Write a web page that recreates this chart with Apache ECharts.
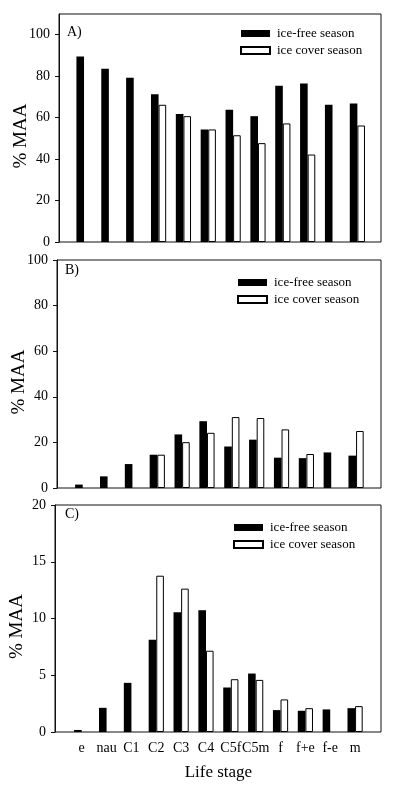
<!DOCTYPE html>
<html><head><meta charset="utf-8">
<script src="https://cdn.jsdelivr.net/npm/echarts@6/dist/echarts.min.js"></script>
<style>html,body{margin:0;padding:0;background:#fff}#c{width:400px;height:787px}</style>
</head><body><div id="c"></div>
<script>
const categories = ['e','nau','C1','C2','C3','C4','C5f','C5m','f','f+e','f-e','m'];
const seriesNames = ['ice-free season','ice cover season'];
const iceFreeA = [89.5,83.6,79.2,71.3,61.7,54.3,63.8,60.7,75.4,76.5,66.2,66.8];
const iceCoverA = [null,null,null,66.2,60.7,54.3,51.5,47.7,57.2,42.2,null,56.2];
const iceFreeB = [1.5,5.1,10.5,14.6,23.5,29.3,18.2,21.2,13.3,13.1,15.6,14.2];
const iceCoverB = [null,null,null,14.6,20.1,24.2,31.1,30.7,25.7,14.9,null,25.0];
const iceFreeC = [0.18,2.13,4.33,8.13,10.56,10.73,3.92,5.15,1.93,1.87,1.99,2.1];
const iceCoverC = [null,null,null,13.77,12.63,7.16,4.65,4.59,2.87,2.1,null,2.28];
const ticksA = [0,20,40,60,80,100];
const ticksB = [0,20,40,60,80,100];
const ticksC = [0,5,10,15,20];
const yMaxA = 110, yMaxB = 100, yMaxC = 20;
const panelLabels = ['A)','B)','C)'];
const yName = '% MAA';
const xName = 'Life stage';

const FONT = 'Liberation Serif';
const panels = [
  {free: iceFreeA, cover: iceCoverA, ticks: ticksA, max: yMaxA, box: {left:59, top:14, width:322, height:228}, barLeft:71.6, nameGap:28, legend:{left:240, top:25.5}, title:{left:67, top:25}},
  {free: iceFreeB, cover: iceCoverB, ticks: ticksB, max: yMaxB, box: {left:57, top:260, width:324, height:228}, barLeft:70.3, nameGap:28, legend:{left:237, top:274.5}, title:{left:65, top:263}},
  {free: iceFreeC, cover: iceCoverC, ticks: ticksC, max: yMaxC, box: {left:55, top:505, width:326, height:227}, barLeft:69.3, nameGap:28, legend:{left:233, top:519.5}, title:{left:65, top:507}}
];
const barSpan = 298.2;

const grid = [], xAxis = [], yAxis = [], series = [], legend = [], title = [];
panels.forEach((p, i) => {
  const gBox = grid.length;
  grid.push({left:p.box.left, top:p.box.top, width:p.box.width, height:p.box.height, show:true, borderColor:'#111', borderWidth:1, backgroundColor:'transparent', containLabel:false, outerBoundsMode:'none'});
  grid.push({left:p.barLeft, top:p.box.top, width:barSpan, height:p.box.height, containLabel:false, outerBoundsMode:'none'});
  xAxis.push({gridIndex:gBox, type:'value', min:0, max:1, show:false});
  yAxis.push({gridIndex:gBox, type:'value', min:0, max:p.max, interval:p.ticks[1]-p.ticks[0],
    axisLine:{show:true, lineStyle:{color:'#111', width:1}},
    axisTick:{show:true, length:4, inside:false, customValues:p.ticks, lineStyle:{color:'#111'}},
    axisLabel:{show:true, customValues:p.ticks, margin:9, color:'#000', fontFamily:FONT, fontSize:14},
    splitLine:{show:false},
    name:yName, nameLocation:'middle', nameGap:p.nameGap, nameRotate:90, nameMoveOverlap:false,
    nameTextStyle:{color:'#000', fontFamily:FONT, fontSize:19, padding:[0,16,0,0]}
  });
  const isLast = i === panels.length - 1;
  xAxis.push({gridIndex:gBox+1, type:'category', data:categories, boundaryGap:true,
    axisLine:{show:false}, axisTick:{show:false},
    axisLabel:{show:isLast, interval:0, margin:9, color:'#000', fontFamily:FONT, fontSize:14},
    name: isLast ? xName : '', nameLocation:'middle', nameGap:32,
    nameTextStyle:{color:'#000', fontFamily:FONT, fontSize:17}
  });
  yAxis.push({gridIndex:gBox+1, type:'value', min:0, max:p.max, show:false, splitLine:{show:false}});
  series.push({name:seriesNames[0], type:'bar', xAxisIndex:gBox+1, yAxisIndex:gBox+1, data:p.free,
    barWidth:7.6, barGap:'0%', itemStyle:{color:'#000'}, silent:true, animation:false});
  series.push({name:seriesNames[1], type:'bar', xAxisIndex:gBox+1, yAxisIndex:gBox+1, data:p.cover,
    barWidth:7.6, barGap:'0%', itemStyle:{color:'#fff', borderColor:'#000', borderWidth:1}, silent:true, animation:false});
  legend.push({orient:'vertical', left:p.legend.left, top:p.legend.top, padding:0, itemGap:1,
    itemWidth:29, itemHeight:7, icon:'rect', data:seriesNames, selectedMode:false,
    textStyle:{color:'#000', fontFamily:FONT, fontSize:13, lineHeight:16, padding:[0,0,0,2]}});
  title.push({text:panelLabels[i], left:p.title.left, top:p.title.top, padding:0,
    textStyle:{color:'#000', fontFamily:FONT, fontSize:14, fontWeight:'normal'}});
});

const chart = echarts.init(document.getElementById('c'), null, {renderer:'canvas'});
chart.setOption({animation:false, backgroundColor:'#fff', title, legend, grid, xAxis, yAxis, series});
</script>
</body></html>
